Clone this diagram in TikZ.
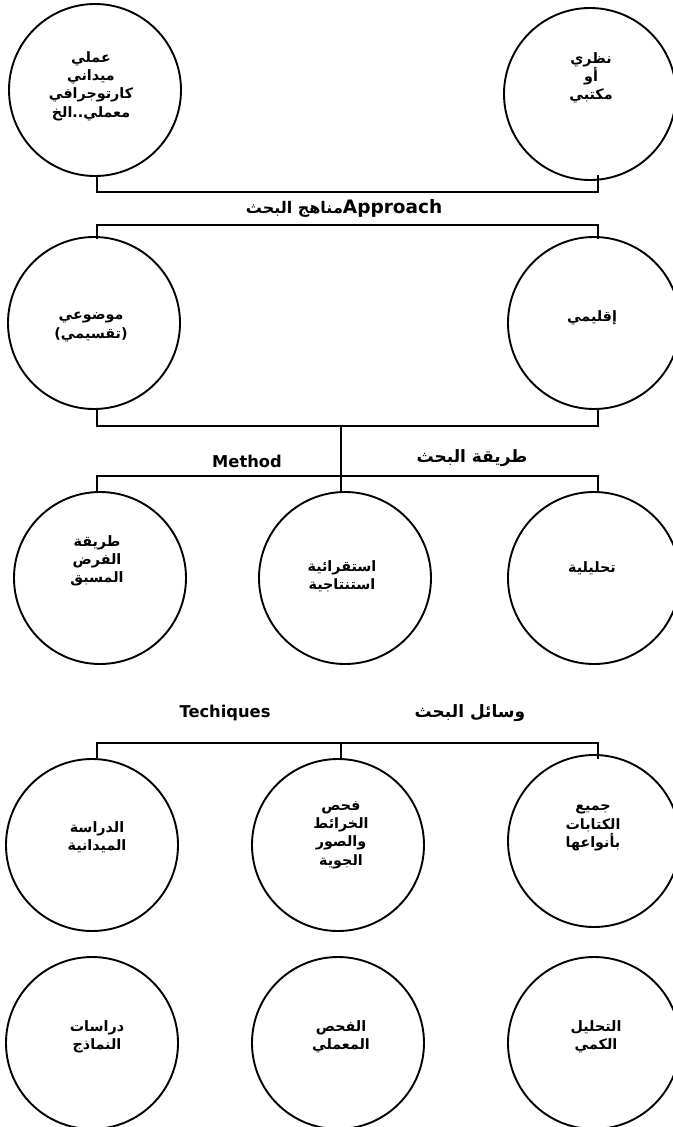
\documentclass[tikz,border=0pt]{standalone}
\usepackage{fontspec}
\setmainfont{DejaVu Sans}
\newfontfamily\arabicfont[Script=Arabic]{DejaVu Sans}
\TeXXeTstate=1
\usetikzlibrary{calc}
\newcommand{\ar}[1]{\beginR #1\endR}

\begin{document}
\begin{tikzpicture}[x=1pt, y=-1pt, line width=1.9pt,
    bubble/.style={draw=black, circle, minimum size=172pt, inner sep=0pt},
    artext/.style={font=\arabicfont\bfseries\fontsize{14.3}{18.3}\selectfont, align=center},
    head/.style={font=\bfseries\fontsize{16.3}{18}\selectfont},
    arhead/.style={font=\arabicfont\bfseries\fontsize{17}{20}\selectfont}]
      \useasboundingbox (0,0) rectangle (672,1127);

      \node [bubble, name=a1] at (95,90) {};
      \node [artext, name=a1t] at (91,86) {\ar{عملي}\\\ar{ميداني}\\\ar{كارتوجرافي}\\\ar{معملي..الخ}};
      \node [bubble, name=b1] at (590,94) {};
      \node [artext, name=b1t] at (591,78) {\ar{نظري}\\\ar{أو}\\\ar{مكتبي}};

      \coordinate (bar1) at (343,192);
      \draw ([xshift=2pt]a1.south) |- (bar1) -| ([xshift=8pt,yshift=6pt]b1.south);
      \node [head, name=approach] at (344,208) {\beginR\beginL{\fontsize{18.5}{20}\selectfont Approach}\endL{\arabicfont\fontsize{16}{20}\selectfont مناهج البحث}\endR};

      \node [bubble, name=a2] at (94,323) {};
      \node [artext, name=a2t] at (91,327) {\ar{موضوعي}\\\hbox{)}\hbox{تقسيمي}\hbox{(}};
      \node [bubble, name=b2] at (594,323) {};
      \node [artext, name=b2t] at (592,318) {\ar{إقليمي}};

      \coordinate (bar2) at (343,225);
      \draw ([xshift=3pt,yshift=-3pt]a2.north) |- (bar2) -| ([xshift=4pt,yshift=-3pt]b2.north);
      \coordinate (bar3) at (341,426);
      \draw ([xshift=3pt]a2.south) |- (bar3) -| ([xshift=4pt]b2.south);

      \node [head, name=method] at (247,461) {Method};
      \node [arhead, name=methodar] at (472,458) {\ar{طريقة البحث}};

      \node [bubble, name=a3] at (100,578) {};
      \node [artext, name=a3t] at (97,561) {\ar{طريقة}\\\ar{الفرض}\\\ar{المسبق}};
      \node [bubble, name=m3] at (345,578) {};
      \node [artext, name=m3t] at (342,576) {\ar{استقرائية}\\\ar{استنتاجية}};
      \node [bubble, name=b3] at (594,578) {};
      \node [artext, name=b3t] at (592,568) {\ar{تحليلية}};

      \coordinate (bar4) at (341,476);
      \draw (bar3) -- (bar4);
      \draw ([xshift=-3pt]a3.north) |- (bar4) -| ([xshift=4pt]b3.north);
      \draw (bar4) -- ([xshift=-4pt]m3.north);

      \node [head, name=tech] at (225,713) {Techiques};
      \node [arhead, name=techar] at (470,713) {\ar{وسائل البحث}};

      \node [bubble, name=a4] at (92,845) {};
      \node [artext, name=a4t] at (97,837) {\ar{الدراسة}\\\ar{الميدانية}};
      \node [bubble, name=m4] at (338,845) {};
      \node [artext, name=m4t] at (341,835) {\ar{فحص}\\\ar{الخرائط}\\\ar{والصور}\\\ar{الجوية}};
      \node [bubble, name=b4] at (594,841) {};
      \node [artext, name=b4t] at (593,828) {\ar{جميع}\\\ar{الكتابات}\\\ar{بأنواعها}};

      \coordinate (bar5) at (341,743);
      \draw ([xshift=5pt]a4.north) |- (bar5) -| ([xshift=4pt,yshift=-5pt]b4.north);
      \draw (bar5) -- ([xshift=3pt]m4.north);

      \node [bubble, name=a5] at (92,1043) {};
      \node [artext, name=a5t] at (97,1037) {\ar{دراسات}\\\ar{النماذج}};
      \node [bubble, name=m5] at (338,1043) {};
      \node [artext, name=m5t] at (341,1037) {\ar{الفحص}\\\ar{المعملي}};
      \node [bubble, name=b5] at (594,1043) {};
      \node [artext, name=b5t] at (596,1037) {\ar{التحليل}\\\ar{الكمي}};
    \end{tikzpicture}
\end{document}
